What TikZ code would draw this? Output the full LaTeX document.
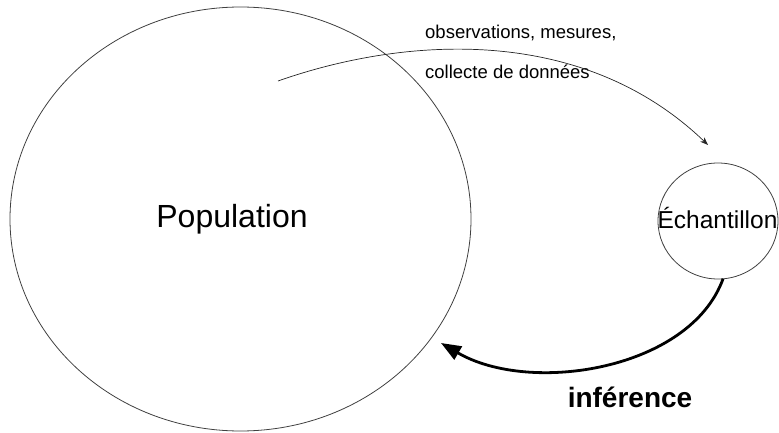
\documentclass[tikz,border=0pt]{standalone}
\usepackage{fontspec}
\setmainfont{Liberation Sans}
\usetikzlibrary{shapes.geometric,arrows.meta}
\begin{document}
\begin{tikzpicture}[x=1pt,y=-1pt,
  outline/.style={draw=black!75,line width=0.8pt,ellipse,inner sep=0pt,outer sep=0pt},
  lbl/.style={inner sep=0pt,anchor=base},
  thinarrow/.style={draw=black!85,line width=0.7pt,-{Stealth[length=8pt,width=6pt]}},
  thickarrow/.style={draw=black,line width=2.8pt,-{Triangle[length=20pt,width=15pt]}},
]
\useasboundingbox (0,0) rectangle (779,433);

% the two sets
\node[outline,minimum width=461pt,minimum height=424pt] (pop) at (240.5,219) {};
\node[outline,minimum width=120pt,minimum height=116pt] (ech) at (718,221) {};

% labels
\node[lbl,font=\fontsize{32}{37}\selectfont] (poptext) at (232,227) {Population};
\node[lbl,font=\fontsize{24.5}{28}\selectfont] (echtext) at (717.5,228) {Échantillon};
\node[lbl,font=\fontsize{28}{32}\selectfont\bfseries] (inftext) at (630,407) {inférence};
\node[lbl,anchor=base west,font=\fontsize{18.5}{22}\selectfont] (obs1) at (425,39) {observations, mesures,};
\node[lbl,anchor=base west,font=\fontsize{18.5}{22}\selectfont] (obs2) at (425,79) {collecte de données};

% connectors
\coordinate (obsstart) at (278,81);
\coordinate (obsend) at (708,145);
\coordinate (inftip) at (441,343);
\draw[thinarrow] (obsstart) .. controls (400,38) and (580,22) .. (obsend);
\draw[thickarrow] (ech.-85) .. controls (690,370) and (530,395) .. (inftip);
\end{tikzpicture}
\end{document}
